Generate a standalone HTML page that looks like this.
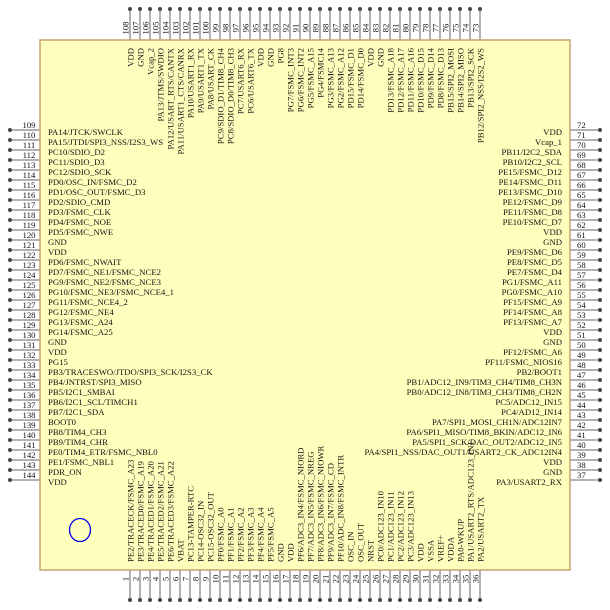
<!DOCTYPE html>
<html><head><meta charset="utf-8"><style>
html,body{margin:0;padding:0;background:#fff}
svg{display:block}
text{font-family:"Liberation Serif",serif;font-size:8.7px;fill:#111}
.n{font-size:8px;text-anchor:middle}
.r{text-anchor:end}
.e{text-anchor:end}
</style></head><body>
<svg width="610" height="610" viewBox="0 0 610 610" xmlns="http://www.w3.org/2000/svg">
<defs>
<pattern id="pt" x="125" y="0" width="10" height="40" patternUnits="userSpaceOnUse"><line x1="5" y1="9" x2="5" y2="40" stroke="#666" stroke-width="1"/><circle cx="5" cy="9" r="2" fill="#444"/></pattern>
<pattern id="pb" x="125" y="570" width="10" height="40" patternUnits="userSpaceOnUse"><line x1="5" y1="0" x2="5" y2="30" stroke="#666" stroke-width="1"/><circle cx="5" cy="30" r="2" fill="#444"/></pattern>
<pattern id="pl" x="0" y="125" width="40" height="10" patternUnits="userSpaceOnUse"><line x1="10" y1="5" x2="40" y2="5" stroke="#666" stroke-width="1"/><circle cx="10" cy="5" r="2" fill="#444"/></pattern>
<pattern id="pr" x="570" y="125" width="40" height="10" patternUnits="userSpaceOnUse"><line x1="0" y1="5" x2="30" y2="5" stroke="#666" stroke-width="1"/><circle cx="30" cy="5" r="2" fill="#444"/></pattern>
</defs>
<rect x="125" y="0" width="360" height="40" fill="url(#pt)"/>
<rect x="125" y="570" width="360" height="40" fill="url(#pb)"/>
<rect x="0" y="125" width="40" height="360" fill="url(#pl)"/>
<rect x="570" y="125" width="40" height="360" fill="url(#pr)"/>
<rect x="40" y="40" width="530" height="530" fill="#ffffbd" stroke="#c8a070" stroke-width="1.5"/>
<ellipse cx="80" cy="530" rx="10.5" ry="11.5" fill="none" stroke="#0000ee" stroke-width="1.3"/>

<!-- left numbers -->
<g class="n">
<text x="29" y="128">109</text><text x="29" y="138">110</text><text x="29" y="148">111</text><text x="29" y="158">112</text><text x="29" y="168">113</text><text x="29" y="178">114</text><text x="29" y="188">115</text><text x="29" y="198">116</text><text x="29" y="208">117</text><text x="29" y="218">118</text><text x="29" y="228">119</text><text x="29" y="238">120</text><text x="29" y="248">121</text><text x="29" y="258">122</text><text x="29" y="268">123</text><text x="29" y="278">124</text><text x="29" y="288">125</text><text x="29" y="298">126</text><text x="29" y="308">127</text><text x="29" y="318">128</text><text x="29" y="328">129</text><text x="29" y="338">130</text><text x="29" y="348">131</text><text x="29" y="358">132</text><text x="29" y="368">133</text><text x="29" y="378">134</text><text x="29" y="388">135</text><text x="29" y="398">136</text><text x="29" y="408">137</text><text x="29" y="418">138</text><text x="29" y="428">139</text><text x="29" y="438">140</text><text x="29" y="448">141</text><text x="29" y="458">142</text><text x="29" y="468">143</text><text x="29" y="478">144</text>
</g>
<!-- left labels -->
<g>
<text x="48" y="135">PA14/JTCK/SWCLK</text>
<text x="48" y="145">PA15/JTDI/SPI3_NSS/I2S3_WS</text>
<text x="48" y="155">PC10/SDIO_D2</text>
<text x="48" y="165">PC11/SDIO_D3</text>
<text x="48" y="175">PC12/SDIO_SCK</text>
<text x="48" y="185">PD0/OSC_IN/FSMC_D2</text>
<text x="48" y="195">PD1/OSC_OUT/FSMC_D3</text>
<text x="48" y="205">PD2/SDIO_CMD</text>
<text x="48" y="215">PD3/FSMC_CLK</text>
<text x="48" y="225">PD4/FSMC_NOE</text>
<text x="48" y="235">PD5/FSMC_NWE</text>
<text x="48" y="245">GND</text>
<text x="48" y="255">VDD</text>
<text x="48" y="265">PD6/FSMC_NWAIT</text>
<text x="48" y="275">PD7/FSMC_NE1/FSMC_NCE2</text>
<text x="48" y="285">PG9/FSMC_NE2/FSMC_NCE3</text>
<text x="48" y="295">PG10/FSMC_NE3/FSMC_NCE4_1</text>
<text x="48" y="305">PG11/FSMC_NCE4_2</text>
<text x="48" y="315">PG12/FSMC_NE4</text>
<text x="48" y="325">PG13/FSMC_A24</text>
<text x="48" y="335">PG14/FSMC_A25</text>
<text x="48" y="345">GND</text>
<text x="48" y="355">VDD</text>
<text x="48" y="365">PG15</text>
<text x="48" y="375">PB3/TRACESWO/JTDO/SPI3_SCK/I2S3_CK</text>
<text x="48" y="385">PB4/JNTRST/SPI3_MISO</text>
<text x="48" y="395">PB5/I2C1_SMBAI</text>
<text x="48" y="405">PB6/I2C1_SCL/TIMCH1</text>
<text x="48" y="415">PB7/I2C1_SDA</text>
<text x="48" y="425">BOOT0</text>
<text x="48" y="435">PB8/TIM4_CH3</text>
<text x="48" y="445">PB9/TIM4_CHR</text>
<text x="48" y="455">PE0/TIM4_ETR/FSMC_NBL0</text>
<text x="48" y="465">PE1/FSMC_NBL1</text>
<text x="48" y="475">PDR_ON</text>
<text x="48" y="485">VDD</text>
</g>
<!-- right numbers -->
<g style="font-size:8px">
<text x="577" y="128">72</text><text x="577" y="138">71</text><text x="577" y="148">70</text><text x="577" y="158">69</text><text x="577" y="168">68</text><text x="577" y="178">67</text><text x="577" y="188">66</text><text x="577" y="198">65</text><text x="577" y="208">64</text><text x="577" y="218">63</text><text x="577" y="228">62</text><text x="577" y="238">61</text><text x="577" y="248">60</text><text x="577" y="258">59</text><text x="577" y="268">58</text><text x="577" y="278">57</text><text x="577" y="288">56</text><text x="577" y="298">55</text><text x="577" y="308">54</text><text x="577" y="318">53</text><text x="577" y="328">52</text><text x="577" y="338">51</text><text x="577" y="348">50</text><text x="577" y="358">49</text><text x="577" y="368">48</text><text x="577" y="378">47</text><text x="577" y="388">46</text><text x="577" y="398">45</text><text x="577" y="408">44</text><text x="577" y="418">43</text><text x="577" y="428">42</text><text x="577" y="438">41</text><text x="577" y="448">40</text><text x="577" y="458">39</text><text x="577" y="468">38</text><text x="577" y="478">37</text>
</g>
<!-- right labels -->
<g class="r">
<text x="562" y="135">VDD</text>
<text x="562" y="145">Vcap_1</text>
<text x="562" y="155">PB11/I2C2_SDA</text>
<text x="562" y="165">PB10/I2C2_SCL</text>
<text x="562" y="175">PE15/FSMC_D12</text>
<text x="562" y="185">PE14/FSMC_D11</text>
<text x="562" y="195">PE13/FSMC_D10</text>
<text x="562" y="205">PE12/FSMC_D9</text>
<text x="562" y="215">PE11/FSMC_D8</text>
<text x="562" y="225">PE10/FSMC_D7</text>
<text x="562" y="235">VDD</text>
<text x="562" y="245">GND</text>
<text x="562" y="255">PE9/FSMC_D6</text>
<text x="562" y="265">PE8/FSMC_D5</text>
<text x="562" y="275">PE7/FSMC_D4</text>
<text x="562" y="285">PG1/FSMC_A11</text>
<text x="562" y="295">PG0/FSMC_A10</text>
<text x="562" y="305">PF15/FSMC_A9</text>
<text x="562" y="315">PF14/FSMC_A8</text>
<text x="562" y="325">PF13/FSMC_A7</text>
<text x="562" y="335">VDD</text>
<text x="562" y="345">GND</text>
<text x="562" y="355">PF12/FSMC_A6</text>
<text x="562" y="365">PF11/FSMC_NIOS16</text>
<text x="562" y="375">PB2/BOOT1</text>
<text x="562" y="385">PB1/ADC12_IN9/TIM3_CH4/TIM8_CH3N</text>
<text x="562" y="395">PB0/ADC12_IN8/TIM3_CH3/TIM8_CH2N</text>
<text x="562" y="405">PC5/ADC12_IN15</text>
<text x="562" y="415">PC4/AD12_IN14</text>
<text x="562" y="425">PA7/SPI1_MOSI_CH1N/ADC12IN7</text>
<text x="562" y="435">PA6/SPI1_MISO/TIM8_BKIN/ADC12_IN6</text>
<text x="562" y="445">PA5/SPI1_SCK/DAC_OUT2/ADC12_IN5</text>
<text x="562" y="455">PA4/SPI1_NSS/DAC_OUT1/USART2_CK_ADC12IN4</text>
<text x="562" y="465">VDD</text>
<text x="562" y="475">GND</text>
<text x="562" y="485">PA3/USART2_RX</text>
</g>
<!-- top numbers -->
<g class="n">
<text transform="translate(128.5,28) rotate(-90)">108</text><text transform="translate(138.5,28) rotate(-90)">107</text><text transform="translate(148.5,28) rotate(-90)">106</text><text transform="translate(158.5,28) rotate(-90)">105</text><text transform="translate(168.5,28) rotate(-90)">104</text><text transform="translate(178.5,28) rotate(-90)">103</text><text transform="translate(188.5,28) rotate(-90)">102</text><text transform="translate(198.5,28) rotate(-90)">101</text><text transform="translate(208.5,28) rotate(-90)">100</text><text transform="translate(218.5,28) rotate(-90)">99</text><text transform="translate(228.5,28) rotate(-90)">98</text><text transform="translate(238.5,28) rotate(-90)">97</text><text transform="translate(248.5,28) rotate(-90)">96</text><text transform="translate(258.5,28) rotate(-90)">95</text><text transform="translate(268.5,28) rotate(-90)">94</text><text transform="translate(278.5,28) rotate(-90)">93</text><text transform="translate(288.5,28) rotate(-90)">92</text><text transform="translate(298.5,28) rotate(-90)">91</text><text transform="translate(308.5,28) rotate(-90)">90</text><text transform="translate(318.5,28) rotate(-90)">89</text><text transform="translate(328.5,28) rotate(-90)">88</text><text transform="translate(338.5,28) rotate(-90)">87</text><text transform="translate(348.5,28) rotate(-90)">86</text><text transform="translate(358.5,28) rotate(-90)">85</text><text transform="translate(368.5,28) rotate(-90)">84</text><text transform="translate(378.5,28) rotate(-90)">83</text><text transform="translate(388.5,28) rotate(-90)">82</text><text transform="translate(398.5,28) rotate(-90)">81</text><text transform="translate(408.5,28) rotate(-90)">80</text><text transform="translate(418.5,28) rotate(-90)">79</text><text transform="translate(428.5,28) rotate(-90)">78</text><text transform="translate(438.5,28) rotate(-90)">77</text><text transform="translate(448.5,28) rotate(-90)">76</text><text transform="translate(458.5,28) rotate(-90)">75</text><text transform="translate(468.5,28) rotate(-90)">74</text><text transform="translate(478.5,28) rotate(-90)">73</text>
</g>
<!-- top labels -->
<g class="e">
<text transform="translate(133.5,48) rotate(-90)">VDD</text>
<text transform="translate(143.5,48) rotate(-90)">GND</text>
<text transform="translate(153.5,48) rotate(-90)">Vcap_2</text>
<text transform="translate(163.5,48) rotate(-90)">PA13/JTMS/SWDIO</text>
<text transform="translate(173.5,48) rotate(-90)">PA12/USART_RTS/CANTX</text>
<text transform="translate(183.5,48) rotate(-90)">PA11/USART1_CTS/CANRX</text>
<text transform="translate(193.5,48) rotate(-90)">PA10/USART1_RX</text>
<text transform="translate(203.5,48) rotate(-90)">PA9/USART1_TX</text>
<text transform="translate(213.5,48) rotate(-90)">PA8/USART_CK</text>
<text transform="translate(223.5,48) rotate(-90)">PC9/SDIO_D1/TIM8_CH4</text>
<text transform="translate(233.5,48) rotate(-90)">PC8/SDIO_D0/TIM8_CH3</text>
<text transform="translate(243.5,48) rotate(-90)">PC7/USART6_RX</text>
<text transform="translate(253.5,48) rotate(-90)">PC6/USART6_TX</text>
<text transform="translate(263.5,48) rotate(-90)">VDD</text>
<text transform="translate(273.5,48) rotate(-90)">GND</text>
<text transform="translate(283.5,48) rotate(-90)">PG8</text>
<text transform="translate(293.5,48) rotate(-90)">PG7/FSMC_INT3</text>
<text transform="translate(303.5,48) rotate(-90)">PG6/FSMC_INT2</text>
<text transform="translate(313.5,48) rotate(-90)">PG5/FSMC_A15</text>
<text transform="translate(323.5,48) rotate(-90)">PG4/FSMC14</text>
<text transform="translate(333.5,48) rotate(-90)">PG3/FSMC_A13</text>
<text transform="translate(343.5,48) rotate(-90)">PG2/FSMC_A12</text>
<text transform="translate(353.5,48) rotate(-90)">PD15/FSMC_D1</text>
<text transform="translate(363.5,48) rotate(-90)">PD14/FSMC_D0</text>
<text transform="translate(373.5,48) rotate(-90)">VDD</text>
<text transform="translate(383.5,48) rotate(-90)">GND</text>
<text transform="translate(393.5,48) rotate(-90)">PD13/FSMC_A18</text>
<text transform="translate(403.5,48) rotate(-90)">PD12/FSMC_A17</text>
<text transform="translate(413.5,48) rotate(-90)">PD11/FSMC_A16</text>
<text transform="translate(423.5,48) rotate(-90)">PD10/FSMC_D15</text>
<text transform="translate(433.5,48) rotate(-90)">PD9/FSMC_D14</text>
<text transform="translate(443.5,48) rotate(-90)">PD8/FSMC_D13</text>
<text transform="translate(453.5,48) rotate(-90)">PB15/SPI2_MOSI</text>
<text transform="translate(463.5,48) rotate(-90)">PB14/SPI2_MISO</text>
<text transform="translate(473.5,48) rotate(-90)">PB13/SPI2_SCK</text>
<text transform="translate(483.5,48) rotate(-90)">PB12/SPI2_NSS/I2S2_WS</text>
</g>
<!-- bottom numbers -->
<g class="n">
<text transform="translate(128.5,579) rotate(-90)">1</text><text transform="translate(138.5,579) rotate(-90)">2</text><text transform="translate(148.5,579) rotate(-90)">3</text><text transform="translate(158.5,579) rotate(-90)">4</text><text transform="translate(168.5,579) rotate(-90)">5</text><text transform="translate(178.5,579) rotate(-90)">6</text><text transform="translate(188.5,579) rotate(-90)">7</text><text transform="translate(198.5,579) rotate(-90)">8</text><text transform="translate(208.5,579) rotate(-90)">9</text><text transform="translate(218.5,579) rotate(-90)">10</text><text transform="translate(228.5,579) rotate(-90)">11</text><text transform="translate(238.5,579) rotate(-90)">12</text><text transform="translate(248.5,579) rotate(-90)">13</text><text transform="translate(258.5,579) rotate(-90)">14</text><text transform="translate(268.5,579) rotate(-90)">15</text><text transform="translate(278.5,579) rotate(-90)">16</text><text transform="translate(288.5,579) rotate(-90)">17</text><text transform="translate(298.5,579) rotate(-90)">18</text><text transform="translate(308.5,579) rotate(-90)">19</text><text transform="translate(318.5,579) rotate(-90)">20</text><text transform="translate(328.5,579) rotate(-90)">21</text><text transform="translate(338.5,579) rotate(-90)">22</text><text transform="translate(348.5,579) rotate(-90)">23</text><text transform="translate(358.5,579) rotate(-90)">24</text><text transform="translate(368.5,579) rotate(-90)">25</text><text transform="translate(378.5,579) rotate(-90)">26</text><text transform="translate(388.5,579) rotate(-90)">27</text><text transform="translate(398.5,579) rotate(-90)">28</text><text transform="translate(408.5,579) rotate(-90)">29</text><text transform="translate(418.5,579) rotate(-90)">30</text><text transform="translate(428.5,579) rotate(-90)">31</text><text transform="translate(438.5,579) rotate(-90)">32</text><text transform="translate(448.5,579) rotate(-90)">33</text><text transform="translate(458.5,579) rotate(-90)">34</text><text transform="translate(468.5,579) rotate(-90)">35</text><text transform="translate(478.5,579) rotate(-90)">36</text>
</g>
<!-- bottom labels -->
<g>
<text transform="translate(133.5,562) rotate(-90)">PE2/TRACECK/FSMC_A23</text>
<text transform="translate(143.5,562) rotate(-90)">PE3/TRACED0/FSMC_A19</text>
<text transform="translate(153.5,562) rotate(-90)">PE4/TRACED1/FSMC_A20</text>
<text transform="translate(163.5,562) rotate(-90)">PE5/TRACED2/FSMC_A21</text>
<text transform="translate(173.5,562) rotate(-90)">PE6/TRACED3/FSMC_A22</text>
<text transform="translate(183.5,562) rotate(-90)">VBAT</text>
<text transform="translate(193.5,562) rotate(-90)">PC13-TAMPER-RTC</text>
<text transform="translate(203.5,562) rotate(-90)">PC14-OSC32_IN</text>
<text transform="translate(213.5,562) rotate(-90)">PC15-OSC32_OUT</text>
<text transform="translate(223.5,562) rotate(-90)">PF0/FSMC_A0</text>
<text transform="translate(233.5,562) rotate(-90)">PF1/FSMC_A1</text>
<text transform="translate(243.5,562) rotate(-90)">PF2/FSMC_A2</text>
<text transform="translate(253.5,562) rotate(-90)">PF3/FSMC_A3</text>
<text transform="translate(263.5,562) rotate(-90)">PF4/FSMC_A4</text>
<text transform="translate(273.5,562) rotate(-90)">PF5/FSMC_A5</text>
<text transform="translate(283.5,562) rotate(-90)">GND</text>
<text transform="translate(293.5,562) rotate(-90)">VDD</text>
<text transform="translate(303.5,562) rotate(-90)">PF6/ADC3_IN4/FSMC_NIORD</text>
<text transform="translate(313.5,562) rotate(-90)">PF7/ADC3_IN5/FSMC_NREG</text>
<text transform="translate(323.5,562) rotate(-90)">PF8/ADC3_IN6/FSMC_NIOWR</text>
<text transform="translate(333.5,562) rotate(-90)">PF9/ADC3_IN7/FSMC_CD</text>
<text transform="translate(343.5,562) rotate(-90)">PF10/ADC_IN8/FSMC_INTR</text>
<text transform="translate(353.5,562) rotate(-90)">OSC_IN</text>
<text transform="translate(363.5,562) rotate(-90)">OSC_OUT</text>
<text transform="translate(373.5,562) rotate(-90)">NRST</text>
<text transform="translate(383.5,562) rotate(-90)">PC0/ADC123_IN10</text>
<text transform="translate(393.5,562) rotate(-90)">PC1/ADC123_IN11</text>
<text transform="translate(403.5,562) rotate(-90)">PC2/ADC123_IN12</text>
<text transform="translate(413.5,562) rotate(-90)">PC3/ADC123_IN13</text>
<text transform="translate(423.5,562) rotate(-90)">VDD</text>
<text transform="translate(433.5,562) rotate(-90)">VSSA</text>
<text transform="translate(443.5,562) rotate(-90)">VREF+</text>
<text transform="translate(453.5,562) rotate(-90)">VDDA</text>
<text transform="translate(463.5,562) rotate(-90)">PA0-WKUP</text>
<text transform="translate(473.5,562) rotate(-90)">PA1/USART2_RTS/ADC123_IN1</text>
<text transform="translate(483.5,562) rotate(-90)">PA2/USART2_TX</text>
</g>
</svg>
</body></html>
